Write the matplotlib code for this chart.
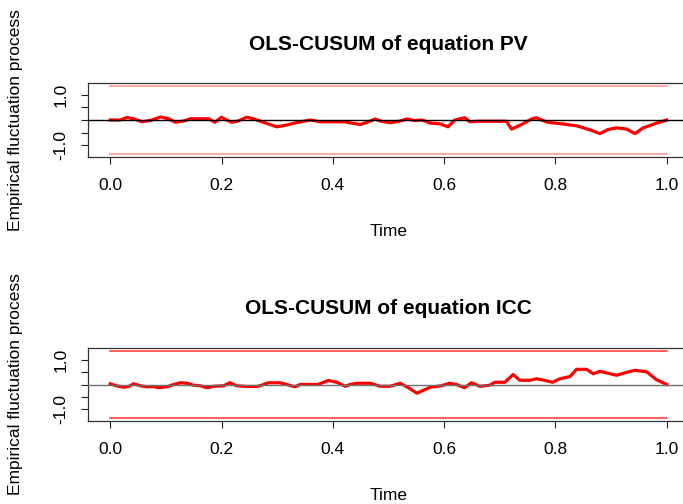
import matplotlib
matplotlib.use("Agg")
import matplotlib.pyplot as plt

plt.rcParams['font.family'] = ['Liberation Sans', 'DejaVu Sans']

# ---- data ----
pv_time = [0.0, 0.018, 0.03, 0.042, 0.057, 0.066, 0.075, 0.09, 0.105, 0.117, 0.132, 0.144,
           0.177, 0.188, 0.200, 0.209, 0.218, 0.230, 0.245, 0.257, 0.270, 0.282, 0.299, 0.317,
           0.338, 0.359, 0.377, 0.396, 0.420, 0.449, 0.462, 0.476, 0.485, 0.503, 0.521, 0.533,
           0.547, 0.560, 0.577, 0.592, 0.607, 0.619, 0.637, 0.646, 0.661, 0.712, 0.721, 0.739,
           0.757, 0.766, 0.775, 0.786, 0.810, 0.838, 0.862, 0.880, 0.894, 0.910, 0.928, 0.943,
           0.957, 0.981, 1.0]
pv_value = [0.00, 0.00, 0.10, 0.05, -0.07, -0.04, 0.00, 0.12, 0.05, -0.09, -0.04, 0.05,
            0.05, -0.09, 0.11, 0.00, -0.09, -0.04, 0.11, 0.05, -0.05, -0.14, -0.27, -0.20,
            -0.09, 0.00, -0.07, -0.07, -0.07, -0.18, -0.09, 0.04, -0.04, -0.11, -0.04, 0.04,
            -0.02, 0.00, -0.13, -0.15, -0.27, 0.00, 0.09, -0.07, -0.05, -0.05, -0.36, -0.18,
            0.04, 0.09, 0.00, -0.09, -0.15, -0.23, -0.39, -0.54, -0.38, -0.31, -0.36, -0.54,
            -0.32, -0.13, 0.00]

icc_time = [0.0, 0.009, 0.024, 0.033, 0.042, 0.054, 0.066, 0.078, 0.086, 0.102, 0.114, 0.126,
            0.138, 0.150, 0.162, 0.174, 0.186, 0.204, 0.215, 0.227, 0.245, 0.263, 0.272, 0.284,
            0.305, 0.317, 0.332, 0.341, 0.373, 0.392, 0.407, 0.422, 0.431, 0.443, 0.467, 0.479,
            0.485, 0.503, 0.521, 0.536, 0.551, 0.575, 0.595, 0.610, 0.622, 0.637, 0.649, 0.664,
            0.682, 0.691, 0.709, 0.724, 0.736, 0.754, 0.766, 0.780, 0.795, 0.808, 0.826, 0.838,
            0.856, 0.868, 0.880, 0.895, 0.910, 0.928, 0.943, 0.964, 0.981, 1.0]
icc_value = [0.03, -0.04, -0.11, -0.08, 0.03, -0.05, -0.09, -0.08, -0.13, -0.09, 0.00, 0.07,
             0.05, -0.03, -0.05, -0.13, -0.07, -0.05, 0.07, -0.05, -0.08, -0.08, -0.03, 0.07,
             0.07, 0.00, -0.09, 0.00, 0.00, 0.16, 0.09, -0.07, 0.00, 0.05, 0.05, -0.03,
             -0.07, -0.07, 0.05, -0.13, -0.35, -0.11, -0.05, 0.05, 0.00, -0.13, 0.07, -0.07,
             -0.03, 0.09, 0.09, 0.40, 0.17, 0.17, 0.23, 0.17, 0.09, 0.23, 0.32, 0.61,
             0.61, 0.43, 0.53, 0.45, 0.37, 0.49, 0.57, 0.51, 0.20, 0.00]

boundary = 1.358
titles = ["OLS-CUSUM of equation PV", "OLS-CUSUM of equation ICC"]
x_ticks = [0.0, 0.2, 0.4, 0.6, 0.8, 1.0]
x_ticklabels = ["0.0", "0.2", "0.4", "0.6", "0.8", "1.0"]
y_ticks = [-1.0, -0.5, 0.0, 0.5, 1.0]
y_ticklabels = ["-1.0", "", "", "", "1.0"]

# ---- figure ----
W, H = 683, 504
fig = plt.figure(figsize=(W / 100, H / 100), dpi=100)

def px_axes(left, top, right, bottom):
    return fig.add_axes([left / W, 1 - bottom / H, (right - left) / W, (bottom - top) / H])

panels = [
    dict(box=(88, 83, 689, 157), t=pv_time, v=pv_value, title=titles[0],
         bcol='#ff9090', zcol='black'),
    dict(box=(88, 348, 689, 421), t=icc_time, v=icc_value, title=titles[1],
         bcol='#ff3030', zcol='#707070'),
]

for p in panels:
    l, t, r, b = p['box']
    ax = px_axes(l, t, r, b)
    ax.set_xlim(-0.04, 1.04)
    ax.set_ylim(-1.467, 1.467)
    ax.plot(p['t'], p['v'], color='red', lw=2.3, solid_joinstyle='round', zorder=2)
    ax.plot([0, 1], [boundary, boundary], color=p['bcol'], lw=1.1, zorder=1)
    ax.plot([0, 1], [-boundary, -boundary], color=p['bcol'], lw=1.1, zorder=1)
    ax.axhline(0, color=p['zcol'], lw=1.0, zorder=3)
    ax.set_xticks(x_ticks)
    ax.set_xticklabels(x_ticklabels)
    ax.set_yticks(y_ticks)
    ax.set_yticklabels(y_ticklabels, rotation=90, va='center')
    ax.tick_params(axis='both', length=5, width=0.8, labelsize=12.5, color='#222222')
    ax.tick_params(axis='x', pad=10)
    ax.tick_params(axis='y', pad=9)
    for s in ax.spines.values():
        s.set_color('#333333')
        s.set_linewidth(0.9)
    ax.spines['right'].set_visible(False)
    hh = b - t
    ww = r - l
    ax.set_title(p['title'], fontsize=15, fontweight='bold', y=(b - (t - 39)) / hh,
                 va='center', pad=0)
    ax.set_xlabel("Time", fontsize=12.5, va='center')
    ax.xaxis.set_label_coords(0.5, (b - (b + 74)) / hh)
    ax.set_ylabel("Empirical fluctuation process", fontsize=12.5, va='center')
    ax.yaxis.set_label_coords((16 - l) / ww, 0.5)

fig.savefig("out.png", dpi=100)
